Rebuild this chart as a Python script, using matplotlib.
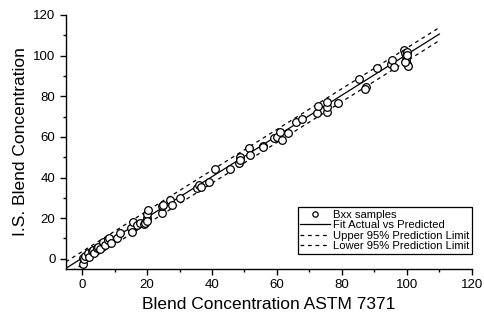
import matplotlib
matplotlib.use("Agg")
import matplotlib.pyplot as plt
import numpy as np

plt.rcParams['font.family'] = ['Liberation Sans', 'DejaVu Sans']

# Sample data
x_astm = [0.3, 0.3, 0.5, 1.0, 1.9, 2.2, 3.0, 3.4, 3.8, 4.5, 4.9, 5.5, 6.5, 7.0, 8.0, 8.3,
          9.0, 10.8, 11.7, 15.0, 15.4, 15.7, 17.0, 17.8, 19.0, 19.5, 20.0, 20.0, 20.3, 20.0,
          24.6, 24.6, 25.0, 27.0, 27.7, 30.0, 35.4, 36.0, 36.5, 39.0, 41.0, 45.5, 48.3, 48.6,
          48.5, 51.4, 51.7, 55.7, 55.8, 59.0, 60.0, 61.0, 61.5, 63.5, 66.0, 67.7, 72.3, 72.6,
          75.3, 75.3, 75.5, 78.8, 85.2, 87.4, 87.0, 90.8, 95.0, 95.5, 96.0, 99.0, 99.4, 99.6,
          99.8, 100.0, 100.0, 100.2, 99.5, 100.0]
y_is = [0.5, -2.5, 0.0, 1.5, 2.9, 1.0, 4.0, 4.4, 3.0, 5.5, 6.0, 5.0, 8.4, 7.0, 9.3, 10.2,
        8.0, 10.3, 12.6, 15.0, 13.0, 18.0, 16.5, 17.6, 17.0, 17.6, 20.0, 22.0, 24.0, 18.5,
        22.6, 26.0, 26.6, 29.0, 26.6, 30.0, 35.0, 36.4, 35.5, 38.0, 44.3, 44.3, 47.2, 50.0,
        48.5, 54.6, 51.0, 55.6, 55.0, 59.5, 60.0, 62.5, 58.5, 62.0, 67.4, 68.9, 71.8, 75.0,
        72.0, 74.5, 77.0, 76.7, 88.5, 84.6, 83.5, 94.0, 96.0, 98.0, 94.5, 103.0, 101.5, 100.0,
        98.0, 96.0, 102.0, 95.0, 97.0, 100.5]

# Fit and prediction limit parameters
fit_slope = 1.003
fit_intercept = 0.3
pred_halfwidth = 3.2
fit_x = [-5, 110]

x_ticks = [0, 20, 40, 60, 80, 100, 120]
y_ticks = [0, 20, 40, 60, 80, 100, 120]

fig = plt.figure(figsize=(4.84, 3.12), dpi=100)
ax = fig.add_axes([0.136, 0.138, 0.839, 0.814])

fx = np.array(fit_x, dtype=float)
fy = fit_slope * fx + fit_intercept

ax.plot(x_astm, y_is, linestyle='none', marker='o', markersize=5.5,
        markerfacecolor='white', markeredgecolor='black', markeredgewidth=0.9,
        label='Bxx samples', zorder=3)
ax.plot(fx, fy, color='black', lw=0.9, label='Fit Actual vs Predicted', zorder=2)
ax.plot(fx, fy + pred_halfwidth, color='black', lw=0.9, dashes=(3, 3),
        label='Upper 95% Prediction Limit', zorder=2)
ax.plot(fx, fy - pred_halfwidth, color='black', lw=0.9, dashes=(3, 3),
        label='Lower 95% Prediction Limit', zorder=2)

ax.set_xlim(-5, 120)
ax.set_ylim(-5, 120)
ax.set_xticks(x_ticks)
ax.set_yticks(y_ticks)
ax.set_xticks(np.arange(10, 120, 20), minor=True)
ax.set_yticks(np.arange(10, 120, 20), minor=True)
ax.tick_params(which='major', direction='out', length=4, width=1, labelsize=9.5)
ax.tick_params(which='minor', direction='out', length=2.5, width=1)
for s in ['top', 'right']:
    ax.spines[s].set_visible(False)
for s in ['left', 'bottom']:
    ax.spines[s].set_linewidth(1)

ax.set_xlabel('Blend Concentration ASTM 7371', fontsize=12.5, labelpad=4)
ax.set_ylabel('I.S. Blend Concentration', fontsize=12.5, labelpad=4)

leg = ax.legend(loc='upper left', bbox_to_anchor=(0.571, 0.242), fontsize=8.1,
                frameon=True, fancybox=False, edgecolor='black', framealpha=1,
                handlelength=2.7, handletextpad=0.25, borderpad=0.2,
                labelspacing=0.05, borderaxespad=0, markerscale=0.7)
leg.get_frame().set_linewidth(0.9)

fig.savefig('out.png', dpi=100)
